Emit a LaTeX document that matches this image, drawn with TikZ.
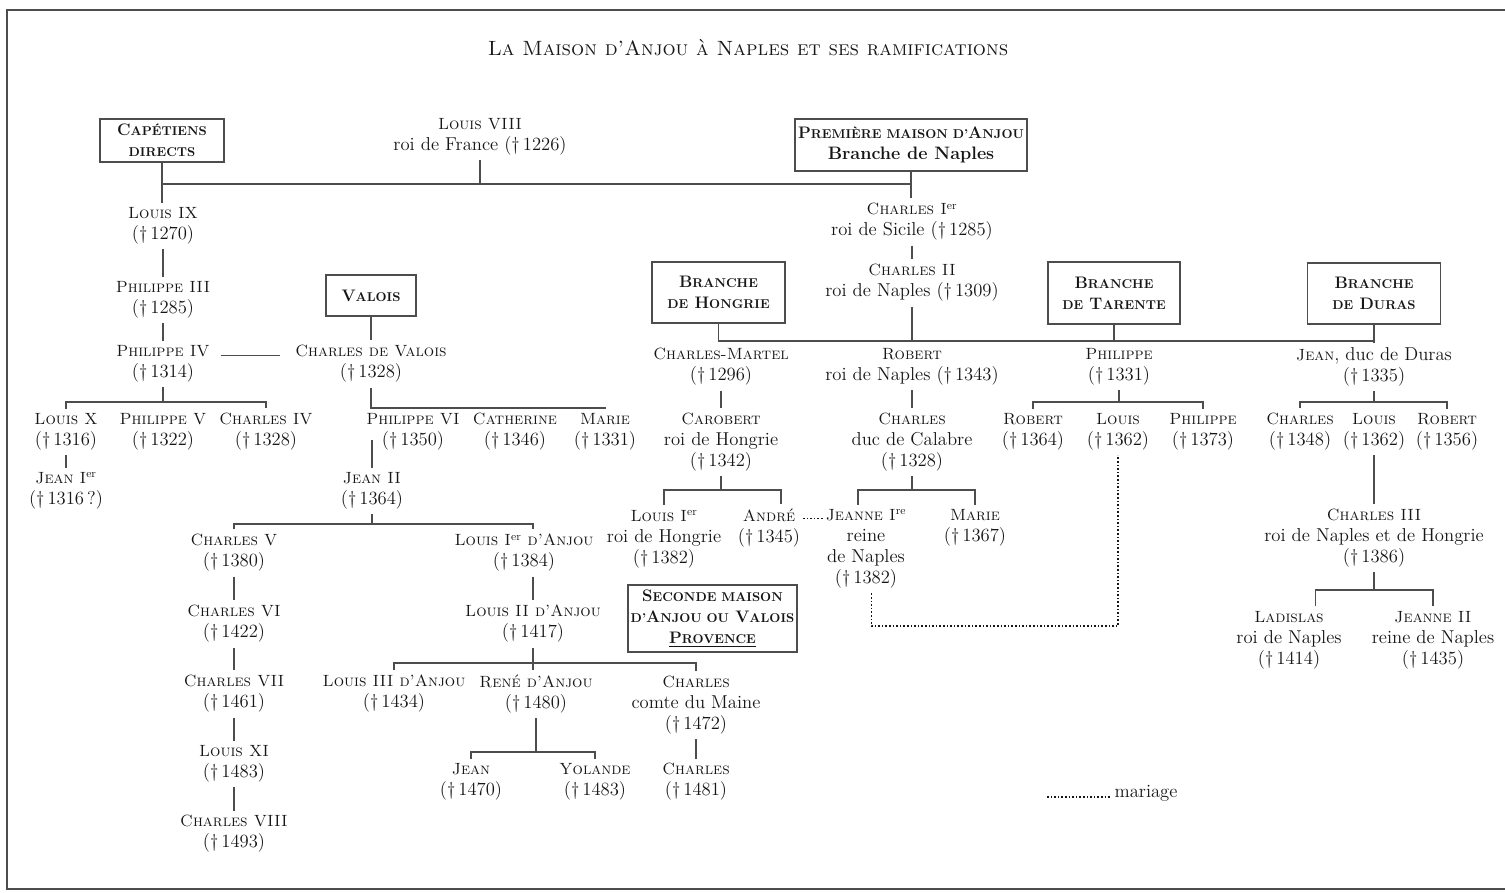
\documentclass[tikz,border=0pt]{standalone}
\usepackage{tikz}
\usetikzlibrary{calc}
\definecolor{ink}{HTML}{161616}
\definecolor{rule}{HTML}{4D4D4D}
\newcommand{\sm}[1]{{\fontsize{9.6}{12}\selectfont #1}}
\newcommand{\nm}[1]{{\fontsize{12.2}{15.75}\selectfont\scshape #1}}
\tikzset{
  pers/.style={align=center, text=ink, inner xsep=2pt, inner ysep=3.5pt, font=\fontsize{14}{15.75}\selectfont},
  house/.style={draw=rule, line width=1pt, align=center, text=ink, inner sep=2pt, font=\fontsize{12.5}{15.75}\selectfont\bfseries},
  link/.style={draw=rule, line width=0.9pt},
  wed/.style={draw=ink, line width=1.2pt, dash pattern=on 1.2pt off 1.5pt},
  frame/.style={draw=rule, line width=1.5pt},
}

\begin{document}
\begin{tikzpicture}[x=0.75pt, y=-0.75pt]
  \useasboundingbox (0,0) rectangle (1505,892);
  \draw[frame] (1505,10) -- (7,10) -- (7,889) -- (1505,889);

  \node[text=ink, font=\fontsize{15.5}{18}\selectfont] (title) at (748,48)
    {\textsc{La Maison d’Anjou à Naples et ses ramifications}};

  % top row
  \node[house, minimum width=93pt, minimum height=32.25pt] (capet) at (162,140.5)
    {C\sm{APÉTIENS}\\\sm{DIRECTS}};
  \node[pers] (louisVIII) at (480,137) {\nm{Louis VIII}\\roi de France (\dag\,1226)};
  \node[house, minimum width=174pt, minimum height=39pt] (premiere) at (911,145)
    {P\sm{REMIÈRE MAISON D’}A\sm{NJOU}\\{\fontsize{13.5}{15.75}\selectfont Branche de Naples}};

  % capetiens directs
  \node[pers] (louisIX) at (163,226) {\nm{Louis IX}\\(\dag\,1270)};
  \node[pers] (philIII) at (163,300) {\nm{Philippe III}\\(\dag\,1285)};
  \node[pers] (philIV) at (163,364) {\nm{Philippe IV}\\(\dag\,1314)};
  \node[pers] (louisX) at (66,432) {\nm{Louis X}\\(\dag\,1316)};
  \node[pers] (philV) at (163,432) {\nm{Philippe V}\\(\dag\,1322)};
  \node[pers] (charlesIV) at (266,432) {\nm{Charles IV}\\(\dag\,1328)};
  \node[pers] (jeanI) at (66,491) {\nm{Jean I\textsuperscript{\upshape er}}\\(\dag\,1316\,?)};

  \coordinate (bar0) at (0,184);
  \draw[link] (capet) -- (capet.south |- louisIX.north);
  \draw[link] (capet.south |- bar0) -- (premiere.south |- bar0);
  \draw[link] (louisVIII) -- (louisVIII |- bar0);
  \draw[link] (louisIX) -- (philIII);
  \draw[link] (philIII) -- (philIV);
  \coordinate (bar1) at (0,402);
  \draw[link] (philIV) -- (philIV |- bar1);
  \draw[link] (louisX) -- (louisX |- bar1) -- (charlesIV |- bar1) -- (charlesIV);
  \draw[link] (louisX) -- (jeanI);

  % valois
  \node[house, minimum width=67.5pt, minimum height=30.75pt] (valois) at (371,295.5) {V\sm{ALOIS}};
  \node[pers] (charlesVal) at (371,364) {\nm{Charles de Valois}\\(\dag\,1328)};
  \node[pers] (philVI) at (413,432) {\nm{Philippe VI}\\(\dag\,1350)};
  \node[pers] (catherine) at (515,432) {\nm{Catherine}\\(\dag\,1346)};
  \node[pers] (marieV) at (605,432) {\nm{Marie}\\(\dag\,1331)};
  \node[pers] (jeanII) at (372,491) {\nm{Jean II}\\(\dag\,1364)};

  \coordinate (phv) at ([xshift=6pt,yshift=6.5pt]philIV.east);
  \draw[link] (phv) -- ([xshift=-9pt]phv -| charlesVal.west);
  \draw[link] (valois) -- (charlesVal);
  \coordinate (bar2) at (0,408);
  \draw[link] (charlesVal) -- (charlesVal |- bar2) -- (marieV |- bar2) -- (marieV);
  \draw[link] (catherine |- bar2) -- (catherine);
  \coordinate (j2top) at ([yshift=-6pt]philVI.center);
  \draw[link] (jeanII) -- (j2top -| jeanII);

  % rois de France
  \node[pers] (charlesV) at (234,553) {\nm{Charles V}\\(\dag\,1380)};
  \node[pers] (charlesVI) at (234,624) {\nm{Charles VI}\\(\dag\,1422)};
  \node[pers] (charlesVII) at (234,694) {\nm{Charles VII}\\(\dag\,1461)};
  \node[pers] (louisXI) at (234,764) {\nm{Louis XI}\\(\dag\,1483)};
  \node[pers] (charlesVIII) at (234,834) {\nm{Charles VIII}\\(\dag\,1493)};
  \draw[link] (charlesV) -- (charlesVI);
  \draw[link] (charlesVI) -- (charlesVII);
  \draw[link] (charlesVII) -- (louisXI);
  \draw[link] (louisXI) -- (charlesVIII);

  % seconde maison d'anjou
  \node[pers] (louisIa) at (524,553) {\nm{Louis I\textsuperscript{\upshape er} d’Anjou}\\(\dag\,1384)};
  \node[pers] (louisIIa) at (533,624) {\nm{Louis II d’Anjou}\\(\dag\,1417)};
  \coordinate (bar3) at (0,524);
  \draw[link] (jeanII) -- (jeanII |- bar3);
  \draw[link] (charlesV) -- (charlesV |- bar3) -- (louisIIa |- bar3) -- (louisIIa |- louisIa.north);
  \draw[link] (louisIa.south -| louisIIa) -- (louisIIa);

  \node[pers] (louisIIIa) at (394,694) {\nm{Louis III d’Anjou}\\(\dag\,1434)};
  \node[pers] (rene) at (536,694) {\nm{René d’Anjou}\\(\dag\,1480)};
  \node[pers] (charlesM) at (696,705) {\nm{Charles}\\comte du Maine\\(\dag\,1472)};
  \node[pers] (charlesF) at (696,782) {\nm{Charles}\\(\dag\,1481)};
  \node[pers] (jeanR) at (471,782) {\nm{Jean}\\(\dag\,1470)};
  \node[pers] (yolande) at (595,782) {\nm{Yolande}\\(\dag\,1483)};
  \coordinate (bar4) at (0,663);
  \draw[link] (louisIIa) -- (louisIIa |- rene.north);
  \draw[link] (louisIIIa) -- (louisIIIa |- bar4) -- (charlesM |- bar4) -- (charlesM);
  \draw[link] (charlesM) -- (charlesF);
  \coordinate (bar5) at (0,752);
  \draw[link] (rene) -- (rene |- bar5);
  \draw[link] (jeanR) -- (jeanR |- bar5) -- (yolande |- bar5) -- (yolande);

  \node[house, minimum width=125.25pt, minimum height=50.25pt] (seconde) at (712.5,618.5)
    {S\sm{ECONDE MAISON}\\\sm{D’}A\sm{NJOU OU} V\sm{ALOIS}\\\underline{P\sm{ROVENCE}}};

  % premiere maison d'anjou
  \node[pers] (charlesI) at (912,222) {\nm{Charles I\textsuperscript{\upshape er}}\\roi de Sicile (\dag\,1285)};
  \node[pers] (charlesII) at (912,283) {\nm{Charles II}\\roi de Naples (\dag\,1309)};
  \draw[link] (premiere) -- (premiere.south |- charlesI.north);
  \draw[link] (charlesI) -- (charlesII);

  \node[house, minimum width=99.75pt, minimum height=45.75pt] (hongrie) at (718.5,292.5)
    {B\sm{RANCHE}\\\sm{DE} H\sm{ONGRIE}};
  \node[house, minimum width=99pt, minimum height=46.5pt] (tarente) at (1114,293)
    {B\sm{RANCHE}\\\sm{DE} T\sm{ARENTE}};
  \node[house, minimum width=99.75pt, minimum height=45.75pt] (duras) at (1374,293.5)
    {B\sm{RANCHE}\\\sm{DE} D\sm{URAS}};

  \node[pers] (cmartel) at (721,367) {\nm{Charles-Martel}\\(\dag\,1296)};
  \node[pers] (robertN) at (912,367) {\nm{Robert}\\roi de Naples (\dag\,1343)};
  \node[pers] (philT) at (1119,367) {\nm{Philippe}\\(\dag\,1331)};
  \node[pers] (jeanD) at (1374,367) {\nm{Jean}, duc de Duras\\(\dag\,1335)};

  \coordinate (bar6) at (0,341);
  \draw[link] (charlesII) -- (charlesII |- bar6);
  \draw[link] (hongrie) -- (hongrie |- bar6) -- (duras |- bar6);
  \draw[link] (tarente) -- (tarente |- bar6);
  \draw[link] (duras) -- (jeanD);

  % branche de hongrie
  \node[pers] (carobert) at (721,442) {\nm{Carobert}\\roi de Hongrie\\(\dag\,1342)};
  \node[pers] (louisIh) at (664,539) {\nm{Louis I\textsuperscript{\upshape er}}\\roi de Hongrie\\(\dag\,1382)};
  \node[pers] (andre) at (769,528) {\nm{André}\\(\dag\,1345)};
  \draw[link] (cmartel) -- (carobert);
  \coordinate (bar7) at (0,490);
  \coordinate (andreT) at ([xshift=9pt]andre.north);
  \draw[link] (carobert) -- (carobert |- bar7);
  \draw[link] (louisIh) -- (louisIh |- bar7) -- (andreT |- bar7) -- (andreT);

  % branche de naples
  \node[pers] (charlesC) at (912,442) {\nm{Charles}\\duc de Calabre\\(\dag\,1328)};
  \node[pers] (jeanneI) at (866,549) {\nm{Jeanne I\textsuperscript{\upshape re}}\\reine\\de Naples\\(\dag\,1382)};
  \node[pers] (marieC) at (975,528) {\nm{Marie}\\(\dag\,1367)};
  \draw[link] (robertN) -- (charlesC);
  \coordinate (jeanneT) at ([xshift=-6pt]jeanneI.north);
  \draw[link] (charlesC) -- (charlesC |- bar7);
  \draw[link] (jeanneT) -- (jeanneT |- bar7) -- (marieC |- bar7) -- (marieC);

  % branche de tarente
  \node[pers] (robertT) at (1033,432) {\nm{Robert}\\(\dag\,1364)};
  \node[pers] (louisT) at (1118,432) {\nm{Louis}\\(\dag\,1362)};
  \node[pers] (philT2) at (1203,432) {\nm{Philippe}\\(\dag\,1373)};
  \coordinate (bar8) at (0,402);
  \draw[link] (philT) -- (philT |- bar8);
  \draw[link] (robertT) -- (robertT |- bar8) -- (philT2 |- bar8) -- (philT2);

  % branche de duras
  \node[pers] (charlesD) at (1300,432) {\nm{Charles}\\(\dag\,1348)};
  \node[pers] (louisD) at (1374,432) {\nm{Louis}\\(\dag\,1362)};
  \node[pers] (robertD) at (1447,432) {\nm{Robert}\\(\dag\,1356)};
  \node[pers] (charlesIII) at (1374,538) {\nm{Charles III}\\roi de Naples et de Hongrie\\(\dag\,1386)};
  \node[pers] (ladislas) at (1289,640) {\nm{Ladislas}\\roi de Naples\\(\dag\,1414)};
  \node[pers] (jeanneII) at (1433,640) {\nm{Jeanne II}\\reine de Naples\\(\dag\,1435)};
  \draw[link] (jeanD) -- (jeanD |- bar8);
  \draw[link] (charlesD) -- (charlesD |- bar8) -- (robertD |- bar8) -- (robertD);
  \draw[link] (louisD) -- (charlesIII);
  \coordinate (bar9) at (0,590);
  \coordinate (ladT) at ([xshift=20pt]ladislas.north);
  \draw[link] (charlesIII) -- (charlesIII |- bar9);
  \draw[link] (ladT) -- (ladT |- bar9) -- (jeanneII |- bar9) -- (jeanneII);

  % mariages
  \coordinate (wedA) at ([yshift=-11pt]andre.north east);
  \draw[wed] (wedA) -- (wedA -| jeanneI.west);
  \coordinate (wedy) at (0,626);
  \coordinate (jeanneB) at ([xshift=4pt]jeanneI.south);
  \draw[wed] (jeanneB) -- (jeanneB |- wedy) -- (louisT |- wedy) -- (louisT);

  % legende
  \node[pers, inner ysep=0pt] (mariage) at (1146,793) {mariage};
  \coordinate (legend) at (1047,797);
  \draw[wed] (legend) -- (legend -| mariage.west);
\end{tikzpicture}
\end{document}
